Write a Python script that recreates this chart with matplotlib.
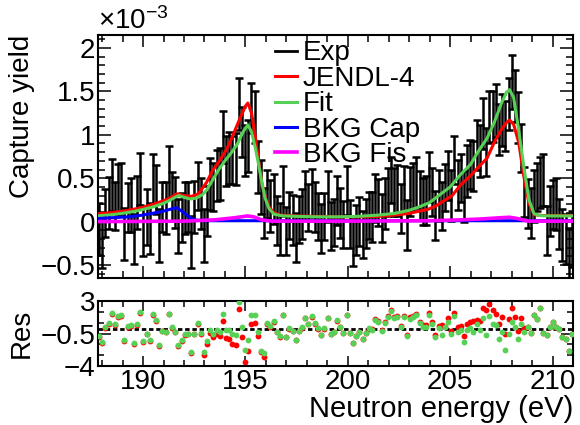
import matplotlib
matplotlib.use('Agg')
import matplotlib.pyplot as plt
from matplotlib.lines import Line2D
from matplotlib.ticker import MultipleLocator, FixedLocator, FuncFormatter

plt.rcParams['font.family'] = ['Liberation Sans', 'DejaVu Sans']
plt.rcParams['mathtext.fontset'] = 'custom'
plt.rcParams['mathtext.rm'] = 'Liberation Sans'
plt.rcParams['mathtext.it'] = 'Liberation Sans:italic'
plt.rcParams['mathtext.bf'] = 'Liberation Sans:bold'

# ---------------- data (capture yield in units of 1e-3) ----------------
energy = [
    187.85, 188.01, 188.16, 188.32, 188.47, 188.63, 188.78, 188.94, 189.09, 189.25,
    189.40, 189.56, 189.71, 189.87, 190.02, 190.18, 190.33, 190.49, 190.64, 190.80,
    190.95, 191.11, 191.26, 191.42, 191.57, 191.73, 191.88, 192.04, 192.19, 192.35,
    192.50, 192.66, 192.81, 192.97, 193.12, 193.28, 193.43, 193.59, 193.74, 193.90,
    194.05, 194.21, 194.36, 194.52, 194.67, 194.83, 194.98, 195.14, 195.29, 195.45,
    195.60, 195.76, 195.91, 196.07, 196.22, 196.38, 196.53, 196.69, 196.84, 197.00,
    197.15, 197.31, 197.46, 197.62, 197.77, 197.93, 198.08, 198.24, 198.39, 198.55,
    198.70, 198.86, 199.01, 199.17, 199.32, 199.48, 199.63, 199.79, 199.94, 200.10,
    200.25, 200.41, 200.56, 200.72, 200.87, 201.03, 201.18, 201.34, 201.49, 201.65,
    201.80, 201.96, 202.11, 202.27, 202.42, 202.58, 202.73, 202.89, 203.04, 203.20,
    203.35, 203.51, 203.66, 203.82, 203.97, 204.13, 204.28, 204.44, 204.59, 204.75,
    204.90, 205.06, 205.21, 205.37, 205.52, 205.68, 205.83, 205.99, 206.14, 206.30,
    206.45, 206.61, 206.76, 206.92, 207.07, 207.23, 207.38, 207.54, 207.69, 207.85,
    208.00, 208.16, 208.31, 208.47, 208.62, 208.78, 208.93, 209.09, 209.24, 209.40,
    209.55, 209.71, 209.86, 210.02, 210.17, 210.33, 210.48, 210.64, 210.79, 210.95]

yield_exp = [
    -0.09, -0.21, 0.10, 0.21, 0.42, 0.18, 0.36, 0.38, -0.14, 0.16,
    0.19, -0.20, 0.22, 0.49, -0.12, 0.05, -0.08, 0.48, 0.37, -0.16,
    0.17, 0.16, 0.57, 0.29, 0.22, -0.05, 0.05, 0.16, 0.17, -0.23,
    0.17, 0.41, 0.21, -0.16, 0.12, 0.43, 0.40, 0.53, 0.55, 0.97,
    0.70, 0.73, 0.71, 0.72, 1.35, 1.03, 0.82, 0.87, 1.31, 1.20,
    0.63, 0.40, 0.10, 0.32, 0.18, 0.26, 0.01, -0.09, 0.35, -0.11,
    0.07, 0.02, -0.18, 0.02, 0.09, 0.30, 0.16, 0.33, 0.17, 0.06,
    -0.08, 0.06, 0.29, -0.05, -0.01, 0.24, 0.10, -0.03, 0.36, -0.03,
    -0.24, -0.10, 0.00, -0.15, -0.02, 0.07, 0.05, 0.27, 0.22, 0.04,
    0.21, 0.34, 0.48, 0.34, 0.36, 0.15, 0.37, -0.04, 0.35, 0.40,
    0.45, 0.30, 0.23, 0.24, 0.51, 0.34, 0.07, 0.30, 0.18, 0.39,
    0.53, 0.30, 0.71, 0.42, 0.50, 0.29, 0.58, 0.66, 0.64, 0.88,
    0.81, 1.13, 0.80, 1.20, 1.21, 1.28, 1.06, 1.17, 1.10, 1.36,
    1.61, 1.45, 1.20, 0.85, 0.34, 0.21, 0.10, 0.30, 0.40, 0.45,
    0.48, -0.10, 0.12, 0.20, 0.20, -0.03, -0.15, -0.20, -0.37, -0.20]

yield_err = [
    0.30, 0.32, 0.28, 0.30, 0.30, 0.28, 0.30, 0.29, 0.30, 0.28,
    0.31, 0.29, 0.30, 0.30, 0.28, 0.32, 0.29, 0.30, 0.28, 0.31,
    0.29, 0.30, 0.30, 0.28, 0.29, 0.31, 0.28, 0.30, 0.29, 0.30,
    0.30, 0.28, 0.29, 0.31, 0.29, 0.30, 0.28, 0.29, 0.30, 0.30,
    0.29, 0.30, 0.28, 0.30, 0.30, 0.29, 0.29, 0.30, 0.29, 0.30,
    0.30, 0.31, 0.29, 0.28, 0.30, 0.29, 0.28, 0.30, 0.29, 0.28,
    0.27, 0.29, 0.28, 0.27, 0.29, 0.28, 0.27, 0.28, 0.29, 0.27,
    0.28, 0.27, 0.29, 0.28, 0.27, 0.28, 0.29, 0.27, 0.28, 0.28,
    0.27, 0.29, 0.28, 0.27, 0.28, 0.27, 0.29, 0.28, 0.27, 0.28,
    0.29, 0.28, 0.27, 0.28, 0.29, 0.28, 0.27, 0.29, 0.28, 0.28,
    0.29, 0.28, 0.27, 0.28, 0.29, 0.28, 0.28, 0.29, 0.28, 0.27,
    0.28, 0.29, 0.28, 0.29, 0.28, 0.29, 0.30, 0.28, 0.29, 0.29,
    0.30, 0.29, 0.28, 0.30, 0.29, 0.30, 0.29, 0.30, 0.29, 0.30,
    0.31, 0.30, 0.29, 0.28, 0.29, 0.28, 0.29, 0.30, 0.28, 0.29,
    0.30, 0.28, 0.29, 0.28, 0.30, 0.29, 0.30, 0.29, 0.30, 0.32]

res_fit = [
    -0.8, -1.4, 0.15, 0.64, 1.7, 0.47, 1.36, 1.47, -1.2, 0.29,
    0.4, -1.57, 0.5, 1.79, -1.32, -0.5, -1.2, 1.57, 0.93, -1.75,
    -0.2, -0.3, 1.65, 0.15, -0.3, -1.75, -1.2, -0.6, -0.5, -2.47,
    -0.5, 0.64, -0.43, -2.47, -1.29, -0.07, -0.5, -0.14, -0.3, 1.57,
    -0.07, -0.14, -0.5, -0.68, 2.9, 0.15, -2.3, -1.2, 1.47, 1.47,
    -0.32, -2.4, -2.64, 0.64, 0.3, 0.86, -0.3, -0.78, 1.47, -0.86,
    0.04, -0.2, -1.2, -0.2, 0.15, 1.22, 0.5, 1.36, 0.58, 0.04,
    -0.68, 0.04, 1.18, -0.5, -0.32, 0.93, 0.21, -0.43, 1.54, -0.43,
    -1.5, -0.78, -0.32, -1.07, -0.43, 0.04, -0.07, 1.0, 0.75, -0.2,
    0.64, 1.29, 1.93, 1.22, 1.29, 0.21, 1.29, -0.78, 1.11, 1.29,
    1.47, 0.64, 0.21, 0.21, 1.47, 0.5, -0.93, 0.04, -0.68, 0.22,
    0.75, -0.57, 1.36, -0.32, -0.14, -1.39, -0.14, 0.04, -0.32, 0.57,
    -0.14, 1.22, -0.68, 1.36, 0.57, 0.4, -1.14, -0.32, -2.29, -0.57,
    0.75, 0.22, -1.14, 0.57, -0.32, 0.22, -0.43, 1.47, 1.11, 2.29,
    -0.43, -0.68, 0.22, 0.75, 0.22, 0.0, -0.86, -1.14, -2.36, -0.57]

res_jendl = [
    -0.88, -1.48, 0.07, 0.56, 1.62, 0.39, 1.28, 1.39, -1.28, 0.21,
    0.32, -1.65, 0.42, 1.71, -1.40, -0.58, -1.28, 1.49, 0.85, -1.83,
    -0.28, -0.38, 1.57, 0.07, -0.38, -1.83, -1.28, -0.68, -0.6, -2.57,
    -0.6, 0.51, -0.56, -2.77, -1.66, -0.47, -0.9, -0.54, -0.8, 0.87,
    -0.97, -1.14, -1.6, -1.78, 2.18, -0.85, -3.54, -2.4, 0.47, 0.67,
    -0.72, -2.5, -3.0, 0.57, 0.23, 0.79, -0.37, -0.85, 1.44, -0.89,
    0.01, -0.23, -1.23, -0.23, 0.12, 1.19, 0.47, 1.33, 0.55, 0.01,
    -0.71, 0.01, 1.15, -0.53, -0.35, 0.90, 0.18, -0.46, 1.51, -0.46,
    -1.53, -0.81, -0.35, -1.10, -0.46, 0.01, -0.02, 1.05, 0.80, -0.15,
    0.69, 1.34, 1.98, 1.32, 1.39, 0.31, 1.39, -0.68, 1.24, 1.42,
    1.60, 0.77, 0.41, 0.41, 1.67, 0.70, -0.65, 0.32, 0.4, 0.22,
    1.22, -0.21, 1.76, 0.22, 0.29, -0.79, 0.57, 0.75, 0.86, 0.93,
    0.86, 2.29, 2.01, 2.65, 2.01, 1.58, 0.57, 1.29, -0.5, 1.11,
    2.29, 1.29, -0.21, 1.22, 0.11, 0.22, -0.43, 1.47, 1.11, 2.29,
    -0.43, -0.68, 0.22, 0.75, 0.22, 0.0, -0.86, -1.14, -2.36, -0.57]

# model curves
jendl_E = [187.8, 188.5, 189.0, 189.5, 190.0, 190.5, 191.0, 191.3, 191.65, 192.0,
           192.35, 192.7, 193.1, 193.4, 193.76, 194.1, 194.4, 194.7, 195.0, 195.12,
           195.3, 195.5, 195.65, 195.8, 195.96, 196.15, 196.4, 196.7, 197.5, 198.5,
           199.5, 200.5, 201.5, 202.3, 203.0, 203.5, 203.9, 204.3, 204.7, 205.1,
           205.5, 206.0, 206.35, 206.8, 207.15, 207.5, 207.75, 207.9, 208.1, 208.35,
           208.6, 208.85, 209.1, 209.5, 211.0]
jendl_Y = [0.09, 0.105, 0.12, 0.14, 0.165, 0.2, 0.24, 0.27, 0.32, 0.30,
           0.29, 0.32, 0.45, 0.59, 0.71, 0.84, 1.0, 1.17, 1.33, 1.366,
           1.25, 0.95, 0.69, 0.45, 0.29, 0.17, 0.10, 0.075, 0.065, 0.06,
           0.055, 0.055, 0.06, 0.075, 0.095, 0.12, 0.14, 0.18, 0.24, 0.30,
           0.42, 0.53, 0.62, 0.73, 0.91, 1.06, 1.14, 1.17, 1.12, 0.91,
           0.52, 0.21, 0.08, 0.07, 0.07]

fit_E = [187.8, 188.5, 189.0, 189.5, 190.0, 190.5, 191.0, 191.3, 191.6, 191.75,
         192.0, 192.3, 192.6, 192.9, 193.1, 193.4, 193.7, 194.0, 194.3, 194.6,
         194.9, 195.12, 195.3, 195.5, 195.65, 195.8, 195.96, 196.15, 196.4, 196.8,
         197.5, 198.5, 199.5, 200.5, 201.5, 202.3, 203.0, 203.5, 204.0, 204.5,
         205.0, 205.5, 206.0, 206.35, 206.8, 207.15, 207.5, 207.75, 207.9, 208.1,
         208.35, 208.6, 208.85, 209.1, 209.4, 210.0, 211.0]
fit_Y = [0.066, 0.08, 0.095, 0.115, 0.14, 0.17, 0.21, 0.245, 0.285, 0.30,
         0.28, 0.26, 0.27, 0.31, 0.36, 0.48, 0.60, 0.70, 0.79, 0.89,
         1.04, 1.115, 1.03, 0.83, 0.65, 0.45, 0.27, 0.15, 0.085, 0.066,
         0.06, 0.055, 0.055, 0.06, 0.075, 0.095, 0.13, 0.17, 0.22, 0.31,
         0.40, 0.54, 0.66, 0.80, 0.96, 1.14, 1.36, 1.49, 1.52, 1.43,
         1.05, 0.63, 0.25, 0.09, 0.068, 0.065, 0.065]

bkgcap_E = [187.8, 188.5, 189.3, 190.0, 190.9, 191.3, 191.63, 191.9, 192.2, 192.5,
            193.0, 200.0, 211.0]
bkgcap_Y = [0.035, 0.045, 0.055, 0.075, 0.115, 0.14, 0.16, 0.12, 0.06, 0.02,
            0.01, 0.01, 0.01]

bkgfis_E = [187.8, 192.0, 193.5, 194.5, 195.1, 195.4, 195.8, 196.3, 200.0, 204.0,
            205.5, 206.5, 207.5, 207.9, 208.3, 208.8, 211.0]
bkgfis_Y = [0.0, 0.005, 0.02, 0.045, 0.065, 0.055, 0.02, 0.005, 0.005, 0.01,
            0.02, 0.03, 0.045, 0.05, 0.035, 0.005, 0.005]

legend_labels = ["Exp", "JENDL-4", "Fit", "BKG Cap", "BKG Fis"]
res_yticks = [3, -0.5, -4]
energy_ticks = [190, 195, 200, 205, 210]

GREEN = '#56d156'
FS = 20

# ---------------- figure ----------------
W, H = 580, 425
fig = plt.figure(figsize=(W / 100, H / 100), dpi=100)


def px_axes(l, t, r, b):
    return fig.add_axes([l / W, 1 - b / H, (r - l) / W, (b - t) / H])


ax = px_axes(98, 35, 573, 278)
axr = px_axes(98, 301, 573, 366)

ax.errorbar(energy, yield_exp, yerr=yield_err, fmt='none', ecolor='black',
            elinewidth=1.8, capsize=3.0, capthick=1.8, zorder=2)
ax.plot(jendl_E, jendl_Y, color='red', lw=2.2, zorder=3)
ax.plot(fit_E, fit_Y, color=GREEN, lw=2.2, zorder=4)
ax.plot(bkgcap_E, bkgcap_Y, color='blue', lw=2.2, zorder=5)
ax.plot(bkgfis_E, bkgfis_Y, color='magenta', lw=2.6, zorder=6)

ax.set_xlim(187.8, 211.0)
ax.set_ylim(-0.65, 2.15)


def yfmt(v, pos):
    s = ('%g' % v)
    return s.replace('-', '\u2212')


ax.yaxis.set_major_locator(MultipleLocator(0.5))
ax.yaxis.set_minor_locator(MultipleLocator(0.1))
ax.yaxis.set_major_formatter(FuncFormatter(yfmt))
ax.xaxis.set_major_locator(FixedLocator(energy_ticks))
ax.xaxis.set_minor_locator(MultipleLocator(1))
ax.tick_params(axis='x', labelbottom=False)
ax.tick_params(which='both', direction='in', top=True, right=True, width=1.1,
               labelsize=FS, pad=2)
ax.tick_params(axis='y', which='major', length=9.5)
ax.tick_params(axis='y', which='minor', length=5)
ax.tick_params(axis='x', which='major', length=8.5)
ax.tick_params(axis='x', which='minor', length=5)
for s in ax.spines.values():
    s.set_linewidth(1.5)
ax.set_ylabel('Capture yield', fontsize=FS, loc='top', labelpad=4)
ax.text(0.0, 1.0, r'$\times10^{-3}$', transform=ax.transAxes, fontsize=FS,
        ha='left', va='bottom')

handles = [Line2D([], [], color='black', lw=2.0),
           Line2D([], [], color='red', lw=2.2),
           Line2D([], [], color=GREEN, lw=2.2),
           Line2D([], [], color='blue', lw=2.2),
           Line2D([], [], color='magenta', lw=2.6)]
ax.legend(handles, legend_labels, loc='upper left', bbox_to_anchor=(0.372, 0.978),
          frameon=False, fontsize=FS, handlelength=0.8, handletextpad=0.22,
          labelspacing=-0.02, borderpad=0, borderaxespad=0)

# residual panel
axr.axhline(0, color='black', lw=2.0, ls=(0, (1.6, 1.0)), zorder=1)
axr.plot(energy, res_jendl, 'o', color='red', ms=4.2, mew=0, zorder=2)
axr.plot(energy, res_fit, 'o', color=GREEN, ms=4.2, mew=0, zorder=3)
axr.set_xlim(187.8, 211.0)
axr.set_ylim(-4, 3)
axr.yaxis.set_major_locator(FixedLocator(res_yticks))
axr.yaxis.set_major_formatter(FuncFormatter(yfmt))
axr.yaxis.set_minor_locator(FixedLocator([1.833, 0.667, -1.667, -2.833]))
axr.xaxis.set_major_locator(FixedLocator(energy_ticks))
axr.xaxis.set_minor_locator(MultipleLocator(1))
axr.tick_params(which='both', direction='in', top=True, right=True, width=1.1,
                labelsize=FS)
axr.tick_params(axis='y', which='major', length=9, pad=2)
axr.tick_params(axis='y', which='minor', length=4.5)
axr.tick_params(axis='x', which='major', length=7, pad=2)
axr.tick_params(axis='x', which='minor', length=4)
for s in axr.spines.values():
    s.set_linewidth(1.5)
axr.set_ylabel('Res', fontsize=FS, labelpad=4)
axr.set_xlabel('Neutron energy (eV)', fontsize=21, loc='right', labelpad=0)

fig.savefig('out.png', dpi=100)
